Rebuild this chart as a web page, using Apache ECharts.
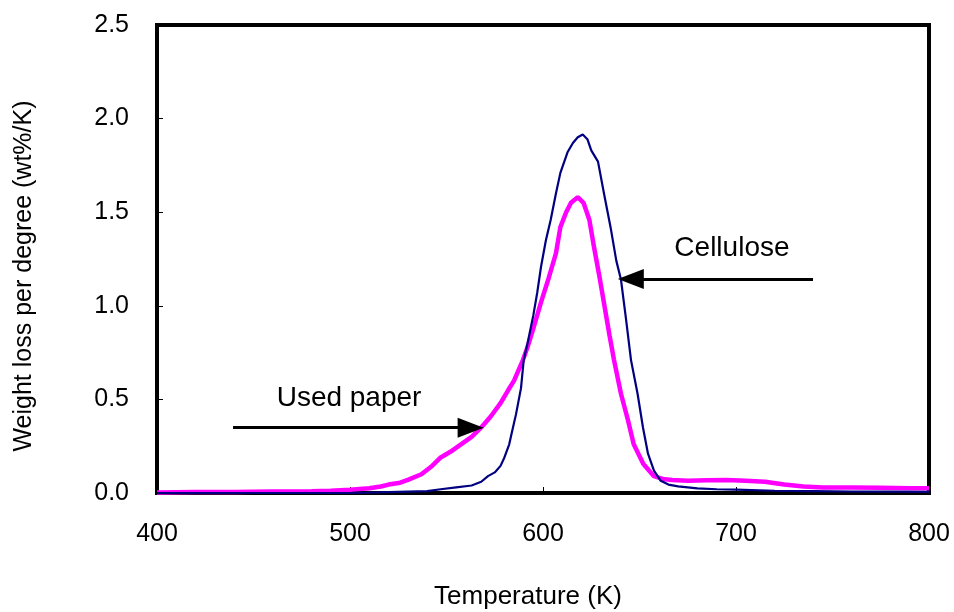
<!DOCTYPE html>
<html>
<head>
<meta charset="utf-8">
<script src="https://cdn.jsdelivr.net/npm/echarts@6/dist/echarts.min.js"></script>
<style>html,body{margin:0;padding:0;background:#fff;}#c{width:954px;height:612px;}</style>
</head>
<body>
<div id="c"></div>
<script>
// Cellulose (navy)
var celluloseT = [400,450,500,520,540,547,555,563,568,571.5,575,578,580,582.5,584,586,588.6,590,592,595,597,599,601.5,604,606.7,609,612.7,615.5,618,620.6,623,625,628.5,631.6,635,638,640.4,643,645.6,649,651.8,654.4,657.5,661,665,670,680,690,700,720,740,760,780,800];
var celluloseV = [0.0,0.0,0.0,0.005,0.01,0.02,0.03,0.04,0.06,0.09,0.11,0.145,0.19,0.26,0.33,0.42,0.56,0.71,0.80,0.95,1.07,1.21,1.35,1.46,1.60,1.71,1.82,1.87,1.90,1.915,1.89,1.83,1.77,1.60,1.42,1.24,1.14,0.93,0.71,0.53,0.35,0.21,0.12,0.065,0.045,0.035,0.025,0.02,0.018,0.012,0.01,0.008,0.007,0.006];
// Used paper (magenta)
var paperT = [400,420,440,460,480,490,500,510,516,520,526,530,537,542,547,552,557.5,563,568,573,578,582,585,587.5,589.6,592,595,599,603,606.7,609,612,614.5,618,621,624,626.5,629,632,634.5,636.8,640.4,644,647,652,657.5,662,667,675,685,695,705,715,725,735,745,760,775,790,800];
var paperV = [0.003,0.005,0.005,0.008,0.01,0.012,0.018,0.025,0.035,0.045,0.055,0.07,0.10,0.14,0.19,0.22,0.26,0.30,0.35,0.41,0.48,0.55,0.60,0.66,0.71,0.78,0.88,1.02,1.15,1.28,1.42,1.50,1.55,1.58,1.55,1.46,1.31,1.17,0.99,0.84,0.71,0.53,0.39,0.26,0.155,0.09,0.075,0.07,0.065,0.068,0.07,0.065,0.06,0.045,0.035,0.03,0.03,0.028,0.025,0.025];
var xTicks = [400,500,600,700,800];
var yTicks = [0,0.5,1.0,1.5,2.0,2.5];
// annotations (data space)
var celluloseLabel = {text:'Cellulose', at:[697.9,1.309], arrowFrom:[739.9,1.143], arrowTo:[645.5,1.143]};
var paperLabel = {text:'Used paper', at:[499.5,0.504], arrowFrom:[439.4,0.349], arrowTo:[562.5,0.349]};

function pairs(t,v){return t.map(function(x,i){return [x,v[i]];});}
var font = "'Liberation Sans', Arial, sans-serif";
var chart = echarts.init(document.getElementById('c'));
chart.setOption({
  animation:false,
  backgroundColor:'#fff',
  grid:{left:157,right:25,top:25,bottom:119,show:true,borderColor:'#000',borderWidth:4,backgroundColor:'transparent',
    containLabel:false,outerBoundsMode:'none'},
  xAxis:{type:'value',min:400,max:800,interval:100,
    name:'Temperature (K)',nameLocation:'middle',nameGap:91,
    nameTextStyle:{fontSize:26,color:'#000',fontFamily:font,padding:[0,30,0,0]},
    axisLine:{show:false},splitLine:{show:false},
    axisTick:{show:true,inside:true,length:6,lineStyle:{color:'#000',width:1}},
    axisLabel:{fontSize:25,color:'#000',fontFamily:font,margin:29,
      formatter:function(v){return xTicks.indexOf(v)>=0?String(v):'';}}},
  yAxis:{type:'value',min:0,max:2.5,interval:0.5,
    name:'Weight loss per degree (wt%/K)',nameLocation:'middle',nameGap:120,
    nameTextStyle:{fontSize:25,color:'#000',fontFamily:font,padding:[0,34,0,0]},
    axisLine:{show:false},splitLine:{show:false},
    axisTick:{show:true,inside:true,length:6,lineStyle:{color:'#000',width:1}},
    axisLabel:{fontSize:25,color:'#000',fontFamily:font,margin:28,
      formatter:function(v){return v.toFixed(1);}}},
  series:[
    {name:'Used paper',type:'line',data:pairs(paperT,paperV),showSymbol:false,symbol:'none',
      lineStyle:{color:'#FF00FF',width:4.5},z:3,
      markLine:{silent:true,symbol:['none','triangle'],symbolSize:[20,26],label:{show:false},
        lineStyle:{color:'#000',width:3,type:'solid'},
        data:[[{coord:paperLabel.arrowFrom},{coord:paperLabel.arrowTo}],
              [{coord:celluloseLabel.arrowFrom},{coord:celluloseLabel.arrowTo}]]},
      markPoint:{silent:true,symbol:'circle',symbolSize:0,
        label:{show:true,position:'inside',color:'#000',fontSize:28,fontFamily:font,formatter:function(p){return p.name;}},
        data:[{name:celluloseLabel.text,coord:celluloseLabel.at},{name:paperLabel.text,coord:paperLabel.at}]}},
    {name:'Cellulose',type:'line',data:pairs(celluloseT,celluloseV),showSymbol:false,symbol:'none',
      lineStyle:{color:'#000080',width:2.2},z:4}
  ]
});
</script>
</body>
</html>
